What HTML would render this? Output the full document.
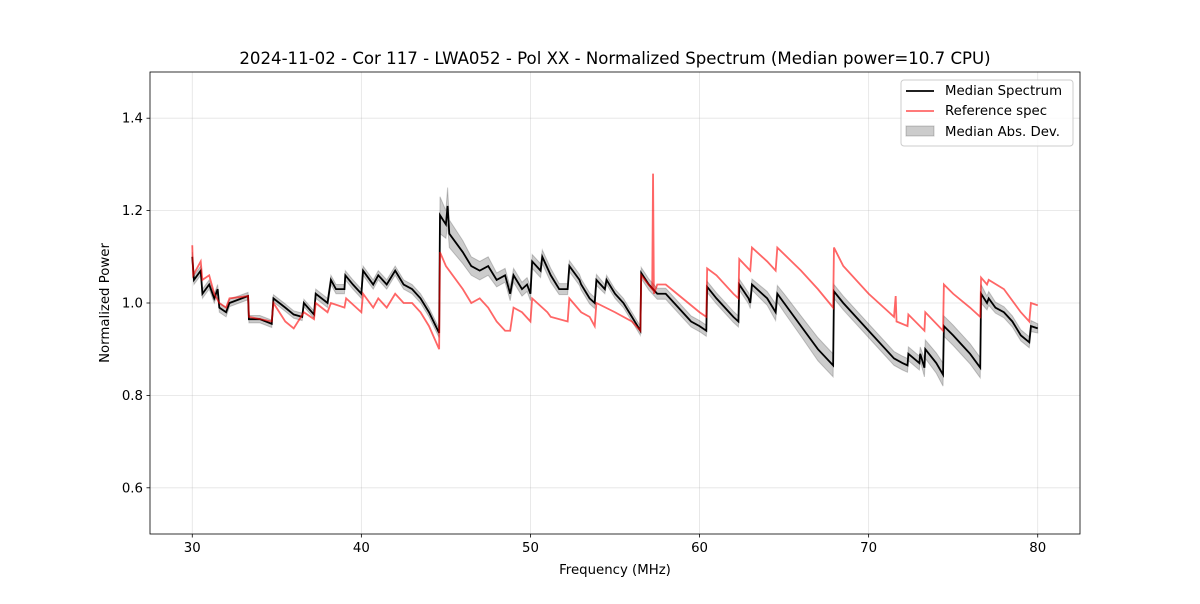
<!DOCTYPE html>
<html><head><meta charset="utf-8"><style>
body{margin:0;background:#fff;font-family:"DejaVu Sans",sans-serif}
svg text{font-family:"DejaVu Sans",sans-serif}
</style></head><body>
<svg id="c" width="1200" height="600"></svg>
<script>
const medFreq=[30,30.1,30.5,30.6,31,31.3,31.5,31.6,32,32.2,33.3,33.35,34,34.7,34.8,35.5,36,36.5,36.6,37.2,37.3,38,38.2,38.5,39,39.05,39.5,40,40.1,40.7,41,41.5,42,42.5,43,43.5,44,44.6,44.65,45,45.1,45.2,46,46.5,47,47.5,48,48.5,48.8,49,49.5,49.8,50,50.1,50.6,50.7,51.2,51.7,52.2,52.3,52.9,53,53.5,53.8,53.9,54.4,54.5,55,55.5,56,56.5,56.55,57,57.5,58,58.5,59,59.5,60,60.4,60.45,61,61.5,62,62.3,62.35,62.9,63,63.1,64,64.5,64.6,65,66,67,67.9,67.95,68.5,69,70,71,71.5,72,72.3,72.35,73,73.05,73.3,73.35,74,74.4,74.45,75,75.5,76,76.6,76.65,77,77.1,77.5,78,78.5,79,79.5,79.6,80];
const medVal=[1.10,1.05,1.07,1.02,1.04,1.01,1.03,0.99,0.98,1.0,1.015,0.965,0.965,0.955,1.01,0.99,0.975,0.97,1.0,0.975,1.02,1.0,1.05,1.03,1.03,1.06,1.04,1.02,1.07,1.04,1.06,1.04,1.07,1.04,1.03,1.01,0.98,0.935,1.19,1.17,1.21,1.15,1.11,1.08,1.07,1.08,1.05,1.06,1.02,1.06,1.03,1.04,1.02,1.09,1.07,1.1,1.06,1.03,1.03,1.08,1.05,1.04,1.01,1.0,1.05,1.03,1.05,1.02,1.0,0.97,0.94,1.065,1.04,1.02,1.02,1.0,0.98,0.96,0.95,0.94,1.035,1.01,0.99,0.97,0.96,1.04,1.01,1.0,1.04,1.01,0.98,1.02,1.0,0.95,0.9,0.865,1.025,1.0,0.98,0.94,0.9,0.88,0.87,0.865,0.89,0.87,0.89,0.86,0.9,0.87,0.845,0.95,0.93,0.91,0.89,0.86,1.02,1.0,1.01,0.99,0.98,0.96,0.93,0.915,0.95,0.945];
const madVal=[0.01,0.01,0.01,0.01,0.01,0.01,0.01,0.01,0.01,0.008,0.008,0.008,0.008,0.008,0.008,0.008,0.008,0.008,0.008,0.008,0.01,0.01,0.01,0.01,0.01,0.01,0.01,0.01,0.01,0.01,0.01,0.01,0.01,0.01,0.01,0.01,0.01,0.01,0.04,0.03,0.04,0.03,0.025,0.02,0.02,0.02,0.015,0.015,0.015,0.015,0.015,0.015,0.015,0.015,0.015,0.015,0.015,0.012,0.012,0.012,0.012,0.012,0.012,0.012,0.012,0.01,0.01,0.01,0.01,0.01,0.01,0.012,0.012,0.012,0.012,0.012,0.012,0.012,0.012,0.012,0.012,0.012,0.012,0.012,0.012,0.012,0.012,0.012,0.012,0.015,0.018,0.018,0.02,0.022,0.025,0.025,0.015,0.015,0.015,0.015,0.015,0.015,0.015,0.015,0.015,0.015,0.015,0.02,0.02,0.022,0.025,0.022,0.022,0.022,0.022,0.022,0.02,0.015,0.015,0.012,0.012,0.012,0.012,0.012,0.012,0.01];
const refFreq=[30,30.05,30.5,30.6,31,31.3,31.6,32,32.2,33.3,33.35,34.7,34.8,35.5,36,36.6,37.2,37.3,38,38.2,39,39.1,40,40.1,40.7,41,41.5,42,42.5,43,43.5,44,44.6,44.65,45,46,46.5,47,47.5,48,48.5,48.8,49,49.5,50,50.1,51,51.2,52.2,52.3,53,53.5,53.8,53.9,55,56,56.5,56.55,57.2,57.25,57.3,57.5,58,59,60,60.4,60.45,61,62,62.3,62.35,63,63.1,64,64.5,64.6,66,67,67.9,67.95,68.5,70,71.5,71.6,71.65,72.3,72.35,73.3,73.35,74.4,74.45,75,76,76.6,76.65,77,77.1,78,79,79.5,79.6,80];
const refVal=[1.125,1.06,1.09,1.05,1.06,1.02,1.0,0.99,1.01,1.015,0.97,0.96,1.0,0.96,0.945,0.98,0.965,1.0,0.98,1.0,0.99,1.01,0.98,1.02,0.99,1.01,0.99,1.02,1.0,1.0,0.98,0.95,0.9,1.11,1.08,1.03,1.0,1.01,0.99,0.96,0.94,0.94,0.99,0.98,0.96,1.01,0.98,0.97,0.96,1.01,0.98,0.97,0.95,1.0,0.98,0.96,0.94,1.06,1.03,1.28,1.02,1.04,1.04,1.01,0.98,0.97,1.075,1.06,1.02,1.01,1.095,1.07,1.12,1.09,1.07,1.12,1.07,1.03,0.99,1.12,1.08,1.02,0.97,1.015,0.96,0.95,0.975,0.94,0.98,0.94,1.04,1.02,0.99,0.97,1.055,1.04,1.05,1.03,0.98,0.96,1.0,0.995];
const xTicks=[30,40,50,60,70,80];
const yTicks=[0.6,0.8,1.0,1.2,1.4];
const L=150,R=1080,T=72,B=534,x0=27.5,x1=82.5,y0=0.5,y1=1.5;
const X=v=>L+(v-x0)/(x1-x0)*(R-L), Y=v=>B-(v-y0)/(y1-y0)*(B-T);
const S='http://www.w3.org/2000/svg',svg=document.getElementById('c');
function el(t,a,p){const e=document.createElementNS(S,t);for(const k in a)e.setAttribute(k,a[k]);(p||svg).appendChild(e);return e;}
xTicks.forEach(v=>{const g=el('line',{x1:X(v),x2:X(v),y1:T,y2:B,stroke:'#b0b0b0','stroke-opacity':0.35,'stroke-width':0.8});

const t=el('line',{x1:X(v),x2:X(v),y1:B,y2:B+3.5,stroke:'#000','stroke-width':0.8});

const l=el('text',{x:X(v),y:B+18,'text-anchor':'middle','font-size':13.3});l.textContent=v;
});
yTicks.forEach(v=>{const g=el('line',{x1:L,x2:R,y1:Y(v),y2:Y(v),stroke:'#b0b0b0','stroke-opacity':0.35,'stroke-width':0.8});

const t=el('line',{x1:L-3.5,x2:L,y1:Y(v),y2:Y(v),stroke:'#000','stroke-width':0.8});

const l=el('text',{x:L-7,y:Y(v)+4.5,'text-anchor':'end','font-size':13.3});l.textContent=v.toFixed(1);
});
let up=medFreq.map((f,i)=>X(f)+','+Y(medVal[i]+madVal[i])),dn=medFreq.map((f,i)=>X(f)+','+Y(medVal[i]-madVal[i])).reverse();
const band=el('polygon',{points:up.concat(dn).join(' '),fill:'#000','fill-opacity':0.2,stroke:'#000','stroke-opacity':0.2,'stroke-width':1});

const med=el('polyline',{points:medFreq.map((f,i)=>X(f)+','+Y(medVal[i])).join(' '),fill:'none',stroke:'#000','stroke-width':1.8});

const ref=el('polyline',{points:refFreq.map((f,i)=>X(f)+','+Y(refVal[i])).join(' '),fill:'none',stroke:'#ff0000','stroke-opacity':0.6,'stroke-width':1.8});

</script>
<svg style="position:absolute;left:0;top:0" width="1200" height="600">
<rect x="150" y="72" width="930" height="462" fill="none" stroke="#000" stroke-width="0.8"/>
<text x="615" y="64" text-anchor="middle" font-size="16.6">2024-11-02 - Cor 117 - LWA052 - Pol XX - Normalized Spectrum (Median power=10.7 CPU)</text>
<text x="615" y="574" text-anchor="middle" font-size="13.3">Frequency (MHz)</text>
<text transform="translate(109,303) rotate(-90)" text-anchor="middle" font-size="13.3">Normalized Power</text>
<g>
<rect x="901" y="80" width="172" height="66" rx="3" fill="#fff" fill-opacity="0.8" stroke="#ccc"/>
<line x1="906" x2="934" y1="91" y2="91" stroke="#000" stroke-width="1.8"/>
<text x="945" y="95" font-size="13.3">Median Spectrum</text>
<line x1="906" x2="934" y1="111" y2="111" stroke="#ff0000" stroke-opacity="0.6" stroke-width="1.8"/>
<text x="945" y="115" font-size="13.3">Reference spec</text>
<rect x="906" y="126" width="28" height="10" fill="#000" fill-opacity="0.2" stroke="#000" stroke-opacity="0.2"/>
<text x="945" y="136" font-size="13.3">Median Abs. Dev.</text>
</g>
</svg>
</body></html>
